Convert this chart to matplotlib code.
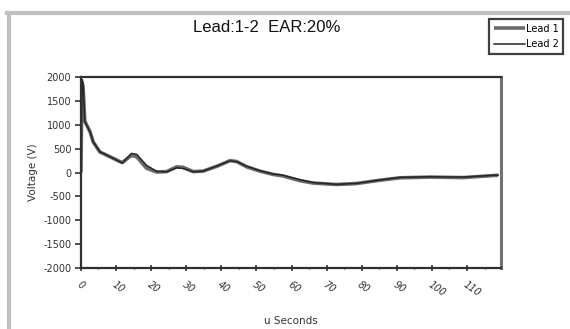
import matplotlib
matplotlib.use('Agg')
import matplotlib.pyplot as plt
from matplotlib.lines import Line2D

# values (time in microseconds, volts)
time_us = [0, 0.3, 0.6, 1.1, 2.6, 3.5, 5.4, 8.3, 11.1, 11.8, 14.4, 15.9, 18.7,
           21.6, 24.4, 27.3, 29.1, 32.0, 34.8, 38.7, 42.5, 44.4, 47.2, 51.0,
           54.8, 57.5, 62.4, 66.2, 72.8, 78.5, 85.2, 90.9, 99.4, 108.9, 118.9]
lead1 = [0, 1900, 1800, 1080, 850, 640, 430, 330, 230, 210, 360, 330, 90,
         10, 20, 120, 110, 20, 30, 130, 250, 230, 120, 30,
         -40, -70, -170, -220, -250, -230, -160, -110, -95, -105, -55]
lead2 = [0, 1950, 1850, 1063, 854, 645, 435, 330, 226, 200, 401, 380, 150,
         25, 15, 100, 85, 15, 30, 136, 247, 226, 136, 38,
         -31, -55, -150, -210, -247, -226, -157, -101, -87, -95, -52]

x_ticks = list(range(0, 111, 10))
y_ticks = list(range(-2000, 2001, 500))

fig = plt.figure(figsize=(5.7, 3.29), dpi=100)
ax = fig.add_axes([0.142, 0.185, 0.737, 0.581])

ax.plot(time_us, lead1, color='#6a6a6a', lw=2.6, label='Lead 1', solid_capstyle='butt')
ax.plot(time_us, lead2, color='#252525', lw=1.1, label='Lead 2')

ax.set_xlim(0, 119.7)
ax.set_ylim(-2000, 2000)
ax.set_xticks(x_ticks)
ax.set_xticks(list(range(5, 120, 10)), minor=True)
ax.set_yticks(y_ticks)
ax.set_xticklabels([str(t) for t in x_ticks], rotation=-35, fontsize=7,
                   style='italic', color='#333333', ha='left', rotation_mode='anchor')
ax.set_yticklabels([str(t) for t in y_ticks], fontsize=7, color='#333333')
ax.tick_params(axis='both', which='major', length=4, width=1.2, color='#333333', pad=3)
ax.tick_params(axis='x', which='major', direction='inout', length=5, pad=6)
ax.tick_params(axis='x', which='minor', direction='inout', length=2, width=1, color='#333333')

for side in ['top', 'left', 'bottom']:
    ax.spines[side].set_color('#303030')
    ax.spines[side].set_linewidth(1.6)
ax.spines['right'].set_color('#707070')
ax.spines['right'].set_linewidth(2.2)

ax.set_xlabel('u Seconds', fontsize=7.5, color='#333333', labelpad=12)
ax.set_ylabel('Voltage (V)', fontsize=7.5, color='#333333', labelpad=4)

fig.text(0.468, 0.915, 'Lead:1-2  EAR:20%', ha='center', va='center',
         fontsize=12, family='Liberation Sans', color='#111111')

leg = fig.legend(loc='upper right', bbox_to_anchor=(0.997, 0.958), fontsize=7,
                 handlelength=3.2, fancybox=False, borderpad=0.5, labelspacing=0.6,
                 handletextpad=0.1, framealpha=1)
leg.get_frame().set_edgecolor('#404040')
leg.get_frame().set_linewidth(1.6)

# grey outer frame (left and top only)
fig.add_artist(Line2D([0.0155, 0.0155], [0.0, 0.962], color='#c0c0c0', lw=3,
                      transform=fig.transFigure))
fig.add_artist(Line2D([0.013, 1.0], [0.962, 0.962], color='#c0c0c0', lw=3,
                      transform=fig.transFigure))

fig.savefig('out.png', dpi=100)
